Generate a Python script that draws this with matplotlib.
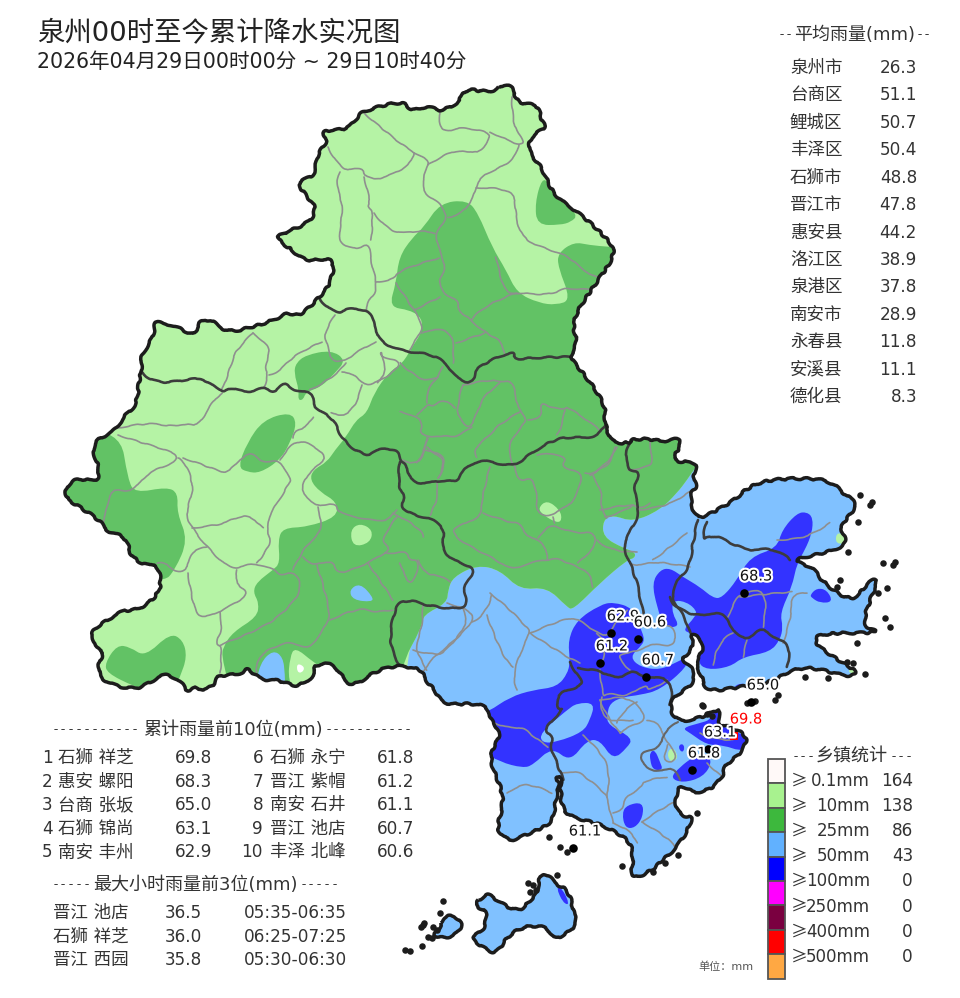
import matplotlib
matplotlib.use('Agg')
import matplotlib.pyplot as plt
import matplotlib.patheffects as pe
from matplotlib.path import Path
from matplotlib.patches import PathPatch

plt.rcParams['font.family'] = ['DejaVu Sans', 'Noto Sans CJK SC']

# 累计雨量数据
avg_names = ['泉州市', '台商区', '鲤城区', '丰泽区', '石狮市', '晋江市', '惠安县', '洛江区', '泉港区', '南安市', '永春县', '安溪县', '德化县']
avg_vals = [26.3, 51.1, 50.7, 50.4, 48.8, 47.8, 44.2, 38.9, 37.8, 28.9, 11.8, 11.1, 8.3]
top_names = ['石狮 祥芝', '惠安 螺阳', '台商 张坂', '石狮 锦尚', '南安 丰州', '石狮 永宁', '晋江 紫帽', '南安 石井', '晋江 池店', '丰泽 北峰']
top_vals = [69.8, 68.3, 65.0, 63.1, 62.9, 61.8, 61.2, 61.1, 60.7, 60.6]
hour_names = ['晋江 池店', '石狮 祥芝', '晋江 西园']
hour_vals = [36.5, 36.0, 35.8]
hour_times = ['05:35-06:35', '06:25-07:25', '05:30-06:30']
levels = ['0.1mm', '10mm', '25mm', '50mm', '100mm', '250mm', '400mm', '500mm']
level_counts = [164, 138, 86, 43, 0, 0, 0, 0]
level_colors = ['#FFF9F8', '#A8F28F', '#3DB83D', '#61B1FF', '#0000FF', '#FF00FF', '#7A0040', '#FF0000', '#FFA843']

# 站点 (图上像素位置)
station_vals = ['68.3', '62.9', '60.6', '61.2', '60.7', '65.0', '63.1', '61.8', '61.1', '69.8']
station_x = [744, 611, 638, 600, 646, 751, 708, 692, 573, 734]
station_y = [593, 633, 639, 663, 677, 702, 749, 770, 848, 736]

# 海岸线
coast_main = [(506,82),(514,90),(517,103),(539,105),(540,117),(547,128),(531,135),(528,152),(542,167),(553,195),(578,212),(606,237),(617,253),(596,283),(571,320),(578,343),(569,357),(581,370),(605,403),(605,423),(607,430),(612,443),(630,443),(632,439),(653,439),(662,442),(677,438),(682,443),(673,458),(678,462),(698,462),(693,475),(697,488),(690,493),(692,508),(698,520),(723,507),(737,498),(747,488),(767,480),(800,478),(830,480),(847,497),(860,503),(837,530),(850,542),(830,552),(790,560),(813,567),(823,583),(853,603),(867,583),(880,577),(867,607),(863,627),(883,633),(820,633),(813,642),(833,657),(860,673),(847,677),(813,667),(790,670),(773,682),(740,687),(707,692),(702,677),(695,663),(702,653),(703,640),(690,633),(693,643),(690,653),(680,658),(693,668),(695,683),(672,698),(670,710),(678,722),(700,718),(713,712),(720,708),(717,725),(733,727),(748,737),(743,750),(733,760),(725,765),(723,777),(710,790),(693,793),(683,785),(677,790),(675,807),(683,817),(693,815),(688,830),(677,847),(663,860),(650,872),(630,880),(633,863),(632,843),(613,830),(593,822),(563,815),(560,787),(562,775),(555,777),(560,783),(555,803),(553,823),(530,833),(510,842),(500,833),(497,827),(505,797),(493,770),(490,753),(502,733),(490,720),(490,710),(477,703),(443,705),(437,693),(423,677),(423,670),(400,665),(377,670),(353,687),(343,678),(333,663),(313,665),(317,673),(298,688),(280,680),(260,680),(247,667),(240,675),(217,675),(213,687),(200,690),(193,687),(187,692),(180,680),(163,673),(150,683),(133,690),(103,682),(97,667),(105,650),(92,645),(92,630),(103,623),(123,610),(140,610),(163,590),(157,563),(150,567),(130,557),(127,537),(107,532),(100,520),(73,503),(65,497),(67,485),(78,478),(97,482),(100,470),(90,443),(117,430),(122,418),(137,405),(139,380),(142,370),(140,357),(155,335),(153,320),(178,327),(196,337),(197,323),(210,318),(226,333),(253,327),(274,320),(289,312),(299,317),(319,298),(331,283),(335,257),(306,262),(292,250),(278,240),(278,235),(310,223),(317,207),(303,193),(297,180),(315,177),(317,153),(328,143),(321,130),(346,130),(356,120),(360,112),(403,100),(412,112),(428,105),(440,112),(460,102),(464,88),(492,93)]
coast_jinmen = [(482,898),(488,893),(503,905),(520,912),(532,898),(538,893),(538,883),(542,873),(548,875),(557,885),(565,888),(572,900),(573,913),(578,920),(570,932),(553,940),(550,930),(537,925),(520,928),(507,937),(498,952),(490,952),(477,943),(470,937),(482,932),(487,920),(485,910),(477,907),(475,902)]
coast_lieyu = [(442,918),(452,915),(463,922),(457,935),(443,938),(435,937),(435,932),(440,928)]
islet_x = [860,870,872,858,848,883,893,895,840,837,878,887,885,890,857,847,853,805,828,865,778,775,747,755,702,707,703,697,678,665,653,622,549,560,567,443,440,424,421,422,410,528,557,432,405,423,533,536,530,428,437,433,712]
islet_y = [495,505,502,522,552,563,565,562,580,587,593,588,618,627,643,662,663,677,678,674,695,700,703,701,705,714,706,813,855,863,872,866,837,847,852,901,913,923,927,946,951,883,875,938,950,925,885,890,892,937,930,927,716]

# 雨量等值区
blue_edge = [(400,667),(422,627),(423,615),(447,603),(448,590),(453,577),(477,565),(500,570),(520,590),(547,587),(567,607),(573,610),(600,583),(627,560),(635,558),(635,552),(623,548),(603,537),(603,520),(613,515),(633,522),(660,510),(677,493),(687,480),(697,465)]
light_zone = blue_edge + [(720,440),(720,-300),(-500,-300),(-500,1400),(400,1400)]
green_west = [(467,200),(440,203),(424,227),(412,238),(399,257),(396,283),(389,307),(410,310),(422,318),(422,332),(412,347),(403,363),(389,372),(374,393),(367,413),(356,420),(346,437),(335,450),(327,462),(313,470),(310,480),(320,492),(337,502),(337,517),(307,527),(283,528),(278,540),(280,563),(273,570),(257,582),(253,592),(259,603),(257,617),(233,632),(223,647),(222,657),(227,677),(235,720)]
green_north = [(720,440),(700,300),(660,250),(610,247),(589,245),(574,242),(558,253),(558,267),(571,300),(556,305),(539,303),(517,293),(506,270),(492,247),(478,213)]
green_main = green_west + [(400,720)] + blue_edge + green_north
green_ne = [(542,178),(535,203),(537,225),(560,225),(571,222),(578,215),(560,197),(549,183)]
green_mid = [(296,363),(306,355),(331,350),(346,360),(335,373),(321,387),(306,392),(303,400),(298,400),(299,390),(294,373)]
green_oval = [(238,467),(247,443),(263,420),(290,412),(297,423),(290,443),(280,460),(260,473),(247,472)]
green_west2 = [(120,430),(128,480),(135,493),(167,487),(178,493),(177,513),(188,540),(175,570),(163,583),(50,580),(50,430)]
green_sw = [(105,663),(117,645),(130,647),(145,657),(170,633),(183,640),(187,657),(180,677),(170,700),(133,686),(107,673)]
light_holes = [
    [(350,530),(360,523),(373,530),(370,543),(353,547)],
    [(295,647),(313,662),(330,673),(298,700),(288,680),(290,657)],
    [(538,508),(547,500),(560,510),(562,520),(557,523),(543,515)],
    [(667,753),(672,747),(677,753),(677,760),(670,762)],
    [(837,530),(835,545),(852,542)],
    [(850,668),(862,668),(862,675),(848,673)],
]
blue_holes = [
    [(349,590),(360,583),(373,597),(372,602),(353,600)],
    [(273,650),(283,657),(285,675),(285,690),(255,690),(260,663)],
]
white_spot = [(297,663),(305,667),(302,673),(297,672)]
deep_main = [(488,712),(510,697),(533,690),(557,687),(568,673),(570,660),(568,640),(577,620),(600,605),(613,602),(633,608),(640,627),(645,640),(640,647),(630,657),(640,667),(660,670),(677,662),(687,657),(687,667),(660,690),(640,695),(623,697),(610,703),(607,715),(608,725),(633,738),(627,748),(613,760),(600,740),(587,740),(570,762),(552,747),(533,765),(523,768),(500,762),(480,750),(480,713)]
deep_gap = [(540,733),(567,710),(577,703),(595,703),(590,720),(583,732),(557,742),(542,743)]
deep_east = [(652,583),(660,570),(670,568),(683,577),(700,587),(713,598),(722,598),(737,580),(750,557),(777,548),(782,530),(797,513),(807,512),(813,518),(812,533),(805,550),(797,563),(792,587),(780,613),(783,627),(780,640),(770,652),(743,657),(730,667),(707,670),(697,662),(703,643),(690,633),(683,630),(695,617),(697,611),(687,602),(673,600),(672,613),(680,627),(664,627),(657,607)]
deep_small = [
    [(810,595),(817,588),(827,590),(833,602),(820,603),(812,598)],
    [(735,685),(745,683),(745,688),(735,690)],
    [(682,728),(700,723),(710,720),(713,712),(720,708),(717,725),(740,733),(752,740),(743,752),(723,745),(707,745),(690,733)],
    [(670,778),(680,767),(693,757),(707,753),(712,763),(703,777),(683,783)],
    [(650,752),(655,750),(660,762),(663,770),(653,770),(650,760)],
    [(678,747),(682,743),(685,748),(682,753)],
    [(622,813),(627,805),(643,802),(643,817),(635,828),(625,828)],
    [(556,887),(562,888),(570,905),(563,903)],
]

# 县界
county_lines = [
    [(319,298),(333,315),(349,308),(367,310),(376,323),(376,337),(392,348),(410,352),(435,355),(449,367),(464,385),(474,380),(476,367),(514,350),(514,360),(539,357),(569,357)],
    [(142,372),(153,385),(196,378),(206,380),(222,393),(228,387),(247,393),(264,387),(274,393),(285,382),(292,390),(312,392),(315,410),(333,417),(343,442),(367,457),(373,450),(397,448),(400,462),(407,463),(408,478),(423,485),(437,480),(457,482),(460,473),(477,460),(492,462),(514,467),(535,450),(560,437),(585,438),(599,435),(606,425)],
    [(400,462),(397,483),(405,497),(400,507),(417,517),(430,517),(447,532),(440,543),(450,560),(477,568),(463,587),(467,600),(462,610),(423,605),(412,600),(395,603),(388,650),(400,665)],
    [(630,443),(625,453),(628,470),(640,472),(633,490),(640,510),(633,527),(623,543),(627,557),(633,570),(640,593),(643,613)],
    [(698,520),(693,540),(690,567),(677,580),(670,597),(687,620),(690,633)],
    [(707,522),(700,543),(713,533),(747,552),(777,547),(790,560)],
    [(670,597),(673,607),(700,617),(713,612),(728,617),(733,633),(747,640),(762,627),(777,640),(787,643),(790,653),(787,667)],
    [(570,662),(578,677),(585,685),(557,693),(557,710),(565,707),(543,730),(553,737),(550,747),(560,770),(563,780)],
    [(578,668),(600,670),(617,680),(630,670),(647,678),(667,678),(673,690),(670,705)],
]
county_lines_thin = [
    [(678,722),(662,732),(662,747),(640,752),(643,767),(660,772),(677,767),(680,780)],
]

# 乡镇界
town_lines = [
    [(364,113),(389,135),(414,153),(428,160),(428,167),(423,177),(423,193),(440,203),(448,217),(435,233),(439,250),(446,267),(439,280),(442,293),(458,300),(458,310),(471,320),(485,333),(501,340),(505,353)],
    [(440,112),(439,127),(446,132),(460,127),(489,132),(490,140),(476,155),(453,148),(428,165)],
    [(512,97),(512,127),(526,142),(519,145),(503,138),(490,132)],
    [(519,145),(517,160),(478,177),(476,193),(460,217),(448,217)],
    [(476,188),(492,187),(515,193),(515,213),(522,240),(556,252),(571,258),(585,273),(599,277)],
    [(592,290),(562,287),(553,295),(517,293),(503,293),(496,257)],
    [(517,293),(485,303),(471,320)],
    [(328,147),(340,172),(364,167),(364,177),(381,180),(414,163),(414,153)],
    [(340,172),(335,183),(344,207),(337,243),(356,250),(369,242),(371,262),(376,280),(376,293),(367,300),(367,310)],
    [(364,177),(371,202),(367,207),(374,213),(371,240)],
    [(374,213),(390,235),(421,230),(435,233)],
    [(376,282),(396,280),(397,270),(439,258)],
    [(396,283),(414,310),(422,323),(421,333),(408,352)],
    [(414,310),(440,297)],
    [(422,333),(431,328),(456,333),(453,363)],
    [(456,343),(485,333)],
    [(335,315),(324,332),(326,340),(331,360),(342,363),(364,347),(376,342)],
    [(253,333),(235,350),(231,367),(222,390)],
    [(253,333),(269,345),(269,357),(264,367),(269,375),(264,387)],
    [(269,375),(278,373),(296,353),(322,342)],
    [(346,363),(339,375),(310,390)],
    [(342,372),(353,372),(362,385),(378,383),(405,363),(381,357),(381,350),(387,372),(378,383)],
    [(362,385),(353,423),(331,413)],
    [(118,428),(147,422),(173,427),(187,423),(198,427),(213,400),(222,393)],
    [(118,435),(133,440),(173,452),(178,458),(173,463),(147,473),(133,492),(110,489),(108,507),(103,522)],
    [(178,458),(183,458),(195,487),(185,513),(192,528),(207,547),(227,567),(240,568),(252,563),(273,568),(280,577),(293,570),(303,588),(287,610),(260,630),(220,645)],
    [(183,458),(210,467),(227,475),(248,450),(263,463),(280,460),(290,478),(290,483),(268,517),(267,530),(272,545),(257,563)],
    [(192,528),(223,525),(233,518),(252,515),(263,528)],
    [(207,547),(190,550),(188,570),(173,572),(163,560),(157,563)],
    [(188,573),(193,610),(203,618),(220,612),(252,593),(233,583),(237,570)],
    [(220,612),(223,627),(215,645),(223,647),(220,673)],
    [(280,460),(293,438),(317,447),(327,460),(308,472),(300,493),(318,507),(337,503),(338,513),(360,518),(388,523),(397,510)],
    [(318,507),(325,530),(303,547),(293,570)],
    [(293,438),(293,430),(307,428),(313,417)],
    [(303,557),(310,563),(317,565),(333,560),(335,572),(347,572),(368,563),(385,553),(390,548),(380,538),(397,517)],
    [(317,565),(327,597),(330,620),(320,633),(310,650),(293,642),(277,645),(255,658),(257,673)],
    [(330,620),(357,607),(377,613),(393,610)],
    [(368,563),(393,600)],
    [(385,553),(395,553),(407,552),(410,560),(418,560),(417,577),(407,585),(400,563)],
    [(418,560),(427,577),(437,573),(450,582)],
    [(423,605),(423,627),(413,650),(427,670)],
    [(413,650),(437,657),(450,647),(470,620),(463,608)],
    [(393,513),(423,528),(423,537)],
    [(437,483),(440,497),(430,515)],
    [(427,438),(427,447),(417,463)],
    [(427,447),(433,452),(447,463),(438,478)],
    [(463,385),(490,379),(500,383),(512,379),(517,403),(520,412),(528,420),(520,427),(505,452),(515,467)],
    [(520,412),(500,423),(488,437),(472,450),(477,457)],
    [(463,385),(455,408),(463,425),(472,427),(480,403),(490,390),(500,383)],
    [(472,427),(457,438),(440,435),(428,438),(420,432),(423,427),(417,415),(400,412)],
    [(417,415),(427,403),(433,408),(443,397),(455,408)],
    [(427,403),(425,393),(438,377),(443,367)],
    [(438,377),(430,382),(413,375),(400,363)],
    [(428,438),(423,457),(415,465),(403,460)],
    [(423,450),(435,450),(448,463),(438,478)],
    [(528,420),(543,418),(540,402),(553,408),(565,410),(567,405),(600,430)],
    [(565,410),(562,427),(557,435)],
    [(490,467),(480,503),(483,513),(470,522),(455,527),(452,532),(463,543),(497,560),(510,570),(533,562),(547,560),(557,558),(577,567),(590,572),(593,587)],
    [(483,513),(507,522),(520,523),(528,538),(540,540),(547,550),(547,560)],
    [(538,538),(543,530),(553,525),(573,533),(593,532),(597,543),(587,555),(578,563)],
    [(515,467),(518,483),(533,477),(537,497),(537,513),(547,517),(560,510),(573,503),(585,473),(560,467),(567,457),(550,453),(537,455)],
    [(585,473),(593,475),(613,457),(617,447)],
    [(593,475),(603,493),(600,510),(607,518)],
    [(553,517),(555,523)],
    [(600,510),(630,503),(640,510),(650,503)],
    [(597,540),(610,553),(637,552)],
    [(650,442),(653,460),(648,468),(628,470)],
    [(615,447),(613,460),(600,470),(590,475)],
    [(638,510),(665,507),(685,495),(693,490)],
    [(605,517),(622,513),(633,505)],
    [(447,603),(472,610),(473,622),(452,643),(430,660),(422,673)],
    [(490,593),(503,603),(527,627),(530,633),(517,660),(513,680),(517,690)],
    [(472,622),(487,615),(492,595)],
    [(487,615),(502,660),(513,667)],
    [(530,633),(567,617),(580,620),(597,633),(607,637),(617,620),(627,610)],
    [(530,633),(570,660),(580,663)],
    [(600,665),(610,647),(597,633)],
    [(643,613),(640,627),(673,623),(677,647),(653,643),(633,653),(613,655),(630,670)],
    [(690,567),(653,560),(640,567),(630,563)],
    [(687,533),(667,550),(653,560)],
    [(728,617),(733,603),(743,592),(770,590),(763,627)],
    [(740,597),(773,593),(792,592)],
    [(733,633),(717,640),(713,665)],
    [(747,640),(743,657)],
    [(777,540),(783,540),(810,537),(830,523)],
    [(783,643),(793,613),(790,593),(807,593)],
    [(600,670),(602,697),(607,693),(627,697),(647,683),(648,693),(667,680)],
    [(602,697),(600,707),(607,723),(633,720)],
    [(490,720),(503,728),(523,727),(535,738),(548,747)],
    [(507,793),(518,785),(535,785),(552,793)],
    [(562,773),(575,770),(587,778),(605,793),(607,798),(613,823)],
    [(583,735),(593,743),(612,770),(607,797)],
    [(613,813),(623,810),(625,797),(643,787),(643,780),(667,777)],
    [(642,822),(670,838),(675,847)],
    [(642,822),(653,813),(673,803)],
    [(613,823),(633,830),(637,843)],
    [(600,700),(608,720),(620,733)],
    [(600,700),(623,695),(640,707),(647,720),(627,727),(620,733)],
    [(637,702),(622,710),(617,723)],
    [(662,732),(657,720),(647,720)],
    [(662,732),(670,747),(678,757),(670,763),(662,757),(668,745)],
    [(700,733),(713,740),(733,740)],
    [(707,763),(723,778)],
]


def smooth(pts):
    # 闭合曲线: 中点在曲线上, 原点作控制点
    n = len(pts)
    mids = [((pts[i][0] + pts[(i + 1) % n][0]) / 2, (pts[i][1] + pts[(i + 1) % n][1]) / 2) for i in range(n)]
    verts = [mids[-1]]
    codes = [Path.MOVETO]
    for i in range(n):
        verts += [pts[i], mids[i]]
        codes += [Path.CURVE3, Path.CURVE3]
    return Path(verts, codes)


def smooth_open(pts):
    if len(pts) < 3:
        return Path(pts)
    verts = [pts[0]]
    codes = [Path.MOVETO]
    for i in range(1, len(pts) - 1):
        end = pts[-1] if i == len(pts) - 2 else ((pts[i][0] + pts[i + 1][0]) / 2, (pts[i][1] + pts[i + 1][1]) / 2)
        verts += [pts[i], end]
        codes += [Path.CURVE3, Path.CURVE3]
    return Path(verts, codes)


fig = plt.figure(figsize=(9.6, 9.98), dpi=100)
ax = fig.add_axes([0, 0, 1, 1])
ax.set_xlim(0, 960)
ax.set_ylim(998, 0)
ax.axis('off')

land = Path.make_compound_path(smooth(coast_main), smooth(coast_jinmen), smooth(coast_lieyu))
ax.add_patch(PathPatch(land, fc='#80C1FF', ec='none', zorder=1))


def fill(points, color, z):
    p = PathPatch(smooth(points), fc=color, ec='none', zorder=z)
    ax.add_patch(p)
    p.set_clip_path(land, ax.transData)


def stroke(points, color, lw, z, clip=False, wiggle=1.0):
    p = PathPatch(smooth_open(points), fc='none', ec=color, lw=lw, zorder=z, joinstyle='round', capstyle='round')
    p.set_sketch_params(wiggle, 24, 3)
    ax.add_patch(p)
    if clip:
        p.set_clip_path(land, ax.transData)


fill(light_zone, '#B5F3A5', 2)
fill(green_main, '#62C265', 3)
for g in [green_ne, green_mid, green_oval, green_west2, green_sw]:
    fill(g, '#62C265', 3)
for g in blue_holes:
    fill(g, '#80C1FF', 4)
fill(deep_main, '#3333FF', 4)
fill(deep_east, '#3333FF', 4)
fill(deep_gap, '#80C1FF', 5)
for g in deep_small:
    fill(g, '#3333FF', 5)
for g in light_holes:
    fill(g, '#B5F3A5', 6)
fill(white_spot, '#FFFFFF', 7)

for line in town_lines:
    stroke(line, '#8F8F8F', 1.2, 8, clip=True, wiggle=0.5)
for line in county_lines_thin:
    stroke(line, '#666666', 1.5, 9, wiggle=0.6)
for line in county_lines:
    stroke(line, '#3C3C3C', 1.9, 9, wiggle=0.7)

outline = PathPatch(land, fc='none', ec='#1C1C1C', lw=2.5, zorder=10, joinstyle='round')
outline.set_sketch_params(1.0, 16, 3)
ax.add_patch(outline)
ax.scatter(islet_x, islet_y, s=22, c='#1C1C1C', linewidths=0, zorder=10)

# 站点
halo = [pe.withStroke(linewidth=3, foreground='white')]
for i in range(len(station_vals)):
    red = station_vals[i] == '69.8'
    ax.scatter(station_x[i], station_y[i], s=38, c='#FF0000' if red else 'black', marker='s' if red else 'o', linewidths=0, zorder=11)
    ax.text(station_x[i] + 12, station_y[i] - 17, station_vals[i], fontsize=10.5, color='#FF0000' if red else '#111111',
            ha='center', va='center', zorder=12, path_effects=halo)

# 标题
ax.text(37, 33, '泉州00时至今累计降水实况图', fontsize=19.7, color='#222222', va='center', ha='left')
ax.text(37, 62, '2026年04月29日00时00分 ~ 29日10时40分', fontsize=14.8, color='#222222', va='center', ha='left')

txt = '#333333'


def header(x0, x1, x2, x3, y, label, n):
    # 两侧短横线用等宽字体, 间距才合适
    ax.text(x0, y, '-' * n, fontsize=9.6, family='DejaVu Sans Mono', color=txt, ha='left', va='center')
    ax.text((x1 + x2) / 2, y, label, fontsize=13, color=txt, ha='center', va='center')
    ax.text(x3, y, '-' * n, fontsize=9.6, family='DejaVu Sans Mono', color=txt, ha='right', va='center')


# 平均雨量
header(778, 793, 916, 932, 35, '平均雨量(mm)', 2)
for i in range(len(avg_names)):
    y = 68 + i * 27.43
    ax.text(790, y, avg_names[i], fontsize=12.6, color=txt, va='center')
    ax.text(917, y, '%.1f' % avg_vals[i], fontsize=12.2, color=txt, va='center', ha='right')

# 前10位
header(52, 143, 323, 413, 730, '累计雨量前10位(mm)', 11)
for i in range(5):
    y = 758 + i * 23.6
    ax.text(42, y, str(i + 1), fontsize=12.2, color=txt, va='center')
    ax.text(58, y, top_names[i], fontsize=12.6, color=txt, va='center')
    ax.text(212, y, '%.1f' % top_vals[i], fontsize=12.2, color=txt, va='center', ha='right')
    ax.text(263, y, str(i + 6), fontsize=12.2, color=txt, va='center', ha='right')
    ax.text(270, y, top_names[i + 5], fontsize=12.6, color=txt, va='center')
    ax.text(414, y, '%.1f' % top_vals[i + 5], fontsize=12.2, color=txt, va='center', ha='right')

header(52, 93, 298, 340, 885, '最大小时雨量前3位(mm)', 5)
for i in range(3):
    y = 913 + i * 23.5
    ax.text(53, y, hour_names[i], fontsize=12.6, color=txt, va='center')
    ax.text(202, y, '%.1f' % hour_vals[i], fontsize=12.2, color=txt, va='center', ha='right')
    ax.text(347, y, hour_times[i], fontsize=12.2, color=txt, va='center', ha='right')

# 图例
ax.bar([776.5] * 9, [24.4] * 9, width=17, bottom=[759 + i * 24.4 for i in range(9)], color=level_colors,
       edgecolor='#555555', linewidth=1.3, zorder=5)
header(792, 815, 888, 914, 757, '乡镇统计', 3)
for i in range(len(levels)):
    y = 781 + i * 25.1
    ax.text(791, y, '≥', fontsize=12, family='Noto Sans CJK SC', color=txt, va='center')
    ax.text(870, y, levels[i], fontsize=12, color=txt, va='center', ha='right')
    ax.text(913, y, str(level_counts[i]), fontsize=12.2, color=txt, va='center', ha='right')
ax.text(698, 967, '单位：mm', fontsize=8, color='#555555', va='center')

fig.savefig('out.png', dpi=100, facecolor='white')
